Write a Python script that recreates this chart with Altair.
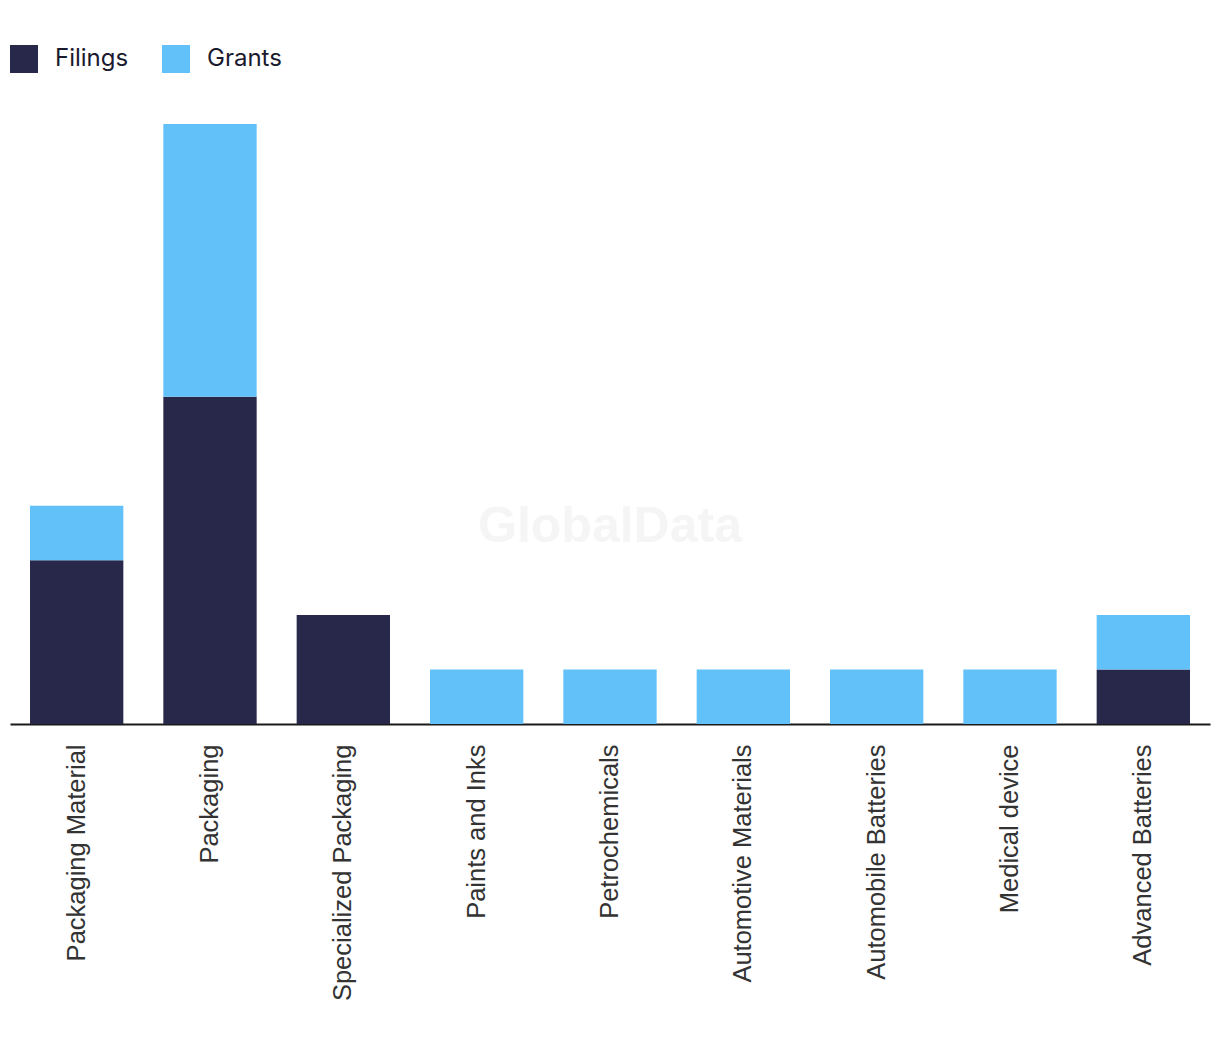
import altair as alt
import pandas as pd

categories = ["Packaging Material", "Packaging", "Specialized Packaging", "Paints and Inks",
              "Petrochemicals", "Automotive Materials", "Automobile Batteries",
              "Medical device", "Advanced Batteries"]
filings = [3, 6, 2, 0, 0, 0, 0, 0, 1]
grants = [1, 5, 0, 1, 1, 1, 1, 1, 1]
series = ["Filings", "Grants"]
colors = ["#27284a", "#62c1f9"]

rows = []
for c, f, g in zip(categories, filings, grants):
    rows.append({"category": c, "type": "Filings", "value": f, "ord": 0})
    rows.append({"category": c, "type": "Grants", "value": g, "ord": 1})
df = pd.DataFrame(rows)

bars = alt.Chart(df).mark_bar().encode(
    x=alt.X("category:N", sort=categories, title=None,
            scale=alt.Scale(paddingInner=0.3, paddingOuter=0.15),
            axis=alt.Axis(labelAngle=-90, labelFontSize=25.5, labelColor="#333333",
                          labelFont="Liberation Sans", labelPadding=20, ticks=False,
                          domainColor="#1a1a1a", domainWidth=2, labelLimit=400)),
    y=alt.Y("value:Q", stack="zero", title=None,
            scale=alt.Scale(domain=[0, 11], nice=False),
            axis=None),
    color=alt.Color("type:N", sort=series, scale=alt.Scale(domain=series, range=colors),
                    legend=alt.Legend(title=None, orient="none", direction="horizontal",
                                      legendX=0, legendY=-79, symbolType="square",
                                      symbolSize=784, symbolStrokeWidth=0, symbolOpacity=1,
                                      labelFontSize=24, labelColor="#1a1a2e",
                                      labelFont="Inter", labelOffset=17,
                                      columnPadding=33)),
    order=alt.Order("ord:Q"),
)

watermark = alt.Chart(pd.DataFrame({"t": ["GlobalData"]})).mark_text(
    fontSize=50, fontWeight="bold", color="#f5f5f5", font="Liberation Sans"
).encode(text="t:N", x=alt.value(600), y=alt.value(403))

chart = alt.layer(watermark, bars).properties(
    width=1200, height=600,
    padding={"left": 2, "top": 116, "right": 2, "bottom": 300},
    autosize=alt.AutoSizeParams(type="none"),
    background="white",
).configure_view(stroke=None)

chart.save("out.html", embed_options={"renderer": "svg", "actions": False})
